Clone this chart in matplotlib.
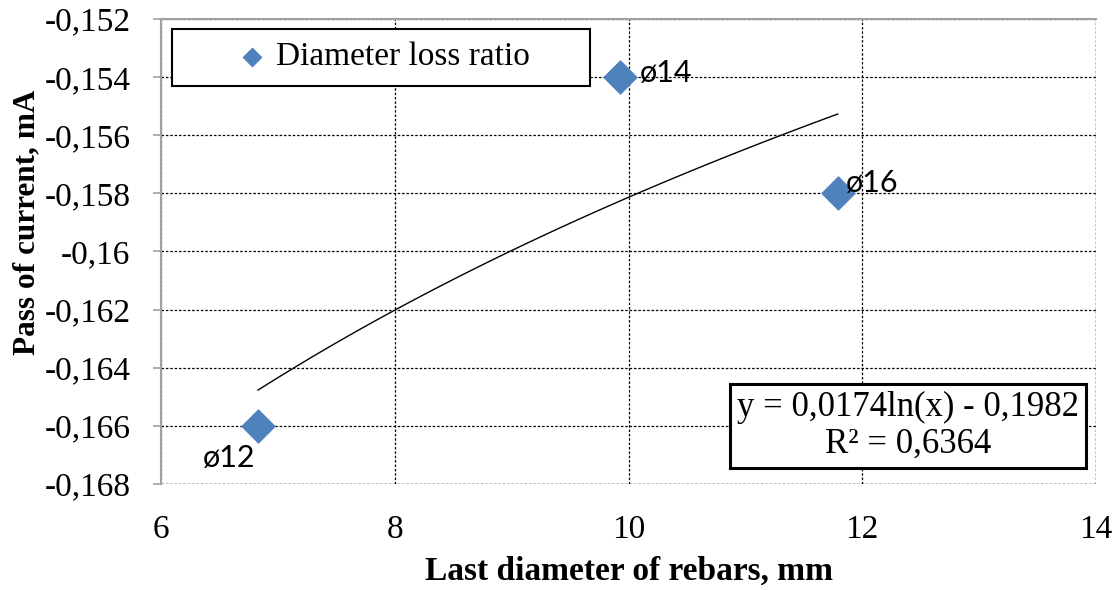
import matplotlib
matplotlib.use("Agg")
import numpy as np
import matplotlib.pyplot as plt
from matplotlib.patches import Rectangle
from matplotlib.ticker import FuncFormatter

# data
diameters = [6.83, 9.93, 11.79]
currents = [-0.166, -0.154, -0.158]
point_labels = ["ø12", "ø14", "ø16"]
fit_a, fit_b = 0.0174, -0.1982
x_ticks = [6, 8, 10, 12, 14]
y_ticks = [-0.168, -0.166, -0.164, -0.162, -0.160, -0.158, -0.156, -0.154, -0.152]

serif = "Liberation Serif"
sans = "Lato"

fig = plt.figure(figsize=(11.16, 5.9), dpi=100)
ax = fig.add_axes([0.1443, 0.1797, 0.9821 - 0.1443, 0.9678 - 0.1797])

ax.set_xlim(6, 14)
ax.set_ylim(-0.168, -0.152)
ax.set_xticks(x_ticks)
ax.set_yticks(y_ticks)

# grid: dashed black
dash = (0, (2, 1.5))
ax.grid(True, linestyle=dash, color="black", linewidth=0.9)
ax.set_axisbelow(True)
for s in ["right", "bottom"]:
    ax.spines[s].set_visible(False)
for s in ["left", "top"]:
    ax.spines[s].set_color("#a0a0a0")
    ax.spines[s].set_linewidth(1.5)
ax.axvline(14, linestyle=dash, color="black", linewidth=0.9)
ax.axhline(-0.168, linestyle=dash, color="black", linewidth=0.9)

ax.tick_params(axis="y", length=6, color="#a0a0a0", width=1.2, pad=16)
ax.tick_params(axis="x", length=0, pad=22)

def fmt(v, pos):
    return ("%.3f" % v).rstrip("0").replace(".", ",")

ax.yaxis.set_major_formatter(FuncFormatter(fmt))
ax.xaxis.set_major_formatter(FuncFormatter(lambda v, p: "%d" % v))
for lab in ax.get_xticklabels() + ax.get_yticklabels():
    lab.set_fontfamily(serif)
    lab.set_fontsize(24)

# trendline
xs = np.linspace(min(diameters), max(diameters), 100)
ax.plot(xs, fit_a * np.log(xs) + fit_b, color="black", linewidth=1.0)

# points
ax.scatter(diameters, currents, marker="D", s=280, color="#4f81bd", zorder=3,
           label="Diameter loss ratio")

offsets = [(-0.47, -0.0011), (0.17, 0.00015), (0.07, 0.00035)]
for x, y, t, (dx, dy) in zip(diameters, currents, point_labels, offsets):
    ax.text(x + dx, y + dy, t, fontfamily=sans, fontsize=22, ha="left", va="center")

# legend with a wide frame drawn separately
ax.add_patch(Rectangle((0.0118, 0.8564), 0.447, 0.1226, transform=ax.transAxes,
                       facecolor="white", edgecolor="black", linewidth=1.5, zorder=4))
leg = ax.legend(loc="center left", bbox_to_anchor=(0.062, 0.918), prop={"family": serif, "size": 24},
                frameon=False, handletextpad=-0.3, markerscale=0.55, borderaxespad=0, borderpad=0)
leg.set_zorder(5)

ax.text(0.799, 0.125, "y = 0,0174ln(x) - 0,1982\nR² = 0,6364", transform=ax.transAxes,
        fontfamily=serif, fontsize=25, ha="center", va="center", linespacing=1.15,
        bbox=dict(boxstyle="square,pad=0.2", facecolor="white", edgecolor="black", linewidth=2.2))

ax.set_xlabel("Last diameter of rebars, mm", fontfamily=serif, fontsize=24, fontweight="bold", labelpad=8)
ax.set_ylabel("Pass of current, mA", fontfamily=serif, fontsize=22.5, fontweight="bold")
ax.yaxis.set_label_coords(-0.128, 0.563)

fig.savefig("out.png", dpi=100)
